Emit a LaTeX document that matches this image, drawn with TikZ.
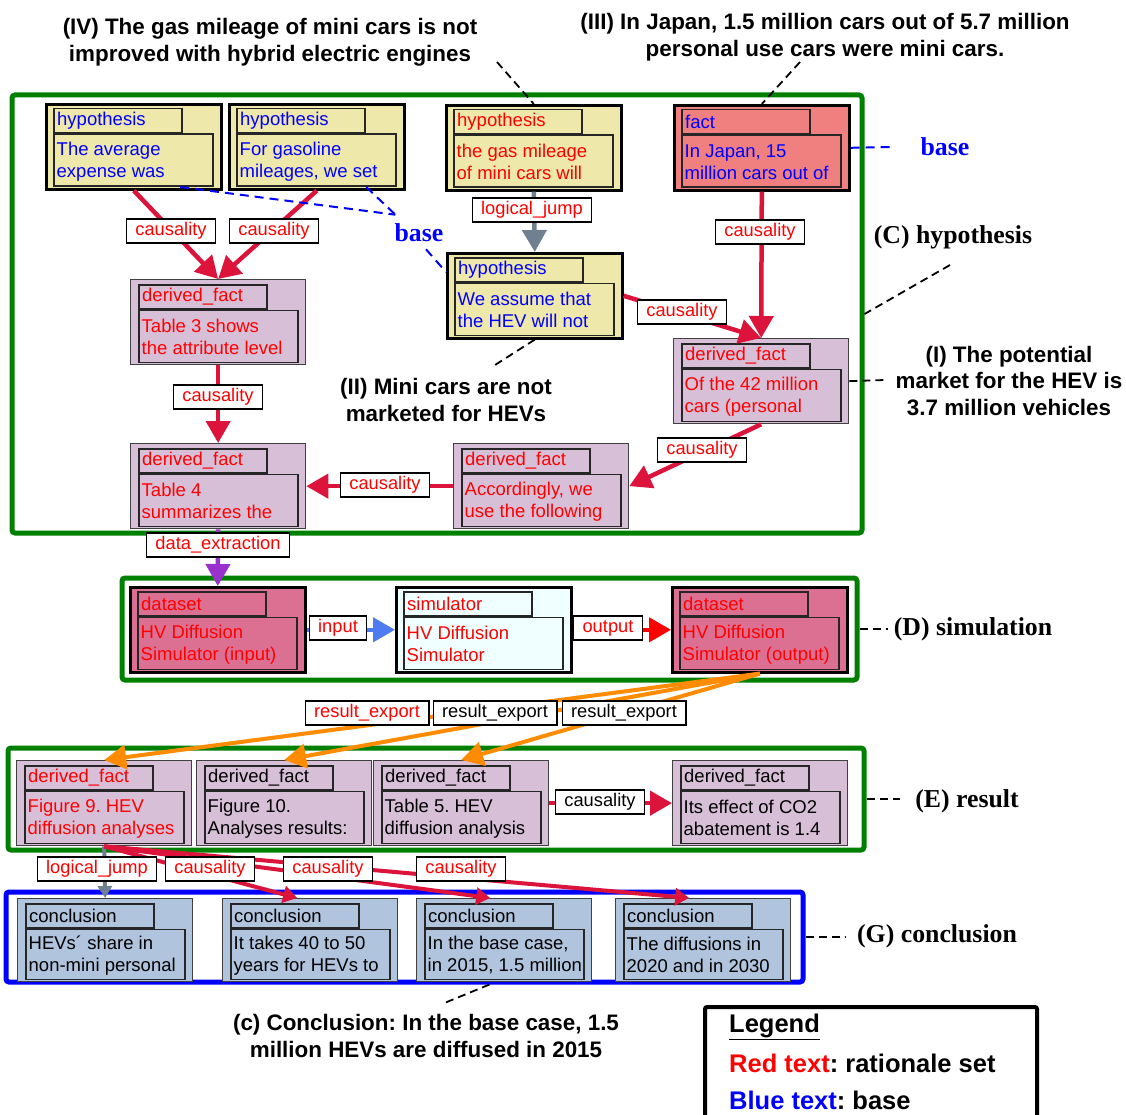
\documentclass[tikz,border=0pt]{standalone}
\usepackage{fontspec}
\setmainfont{Liberation Sans}
\newfontfamily\serifbold{Liberation Serif}
\usetikzlibrary{arrows.meta}
\frenchspacing

\definecolor{hypfill}{HTML}{EEE8AA}
\definecolor{factfill}{HTML}{F08080}
\definecolor{dffill}{HTML}{D8BFD8}
\definecolor{dsfill}{HTML}{DB7093}
\definecolor{simfill}{HTML}{F0FFFF}
\definecolor{confill}{HTML}{B0C4DE}
\definecolor{grn}{HTML}{008000}
\definecolor{crim}{HTML}{DC143C}
\definecolor{slate}{HTML}{708090}
\definecolor{orchid}{HTML}{9932CC}
\definecolor{inblue}{HTML}{4F7BF0}
\definecolor{dorange}{HTML}{FF8C00}

\tikzset{
  outerbox/.style={draw=black, minimum width=175pt, minimum height=85pt, anchor=north west, inner sep=0pt},
  hyp/.style={outerbox, fill=hypfill, line width=2.6pt},
  factk/.style={outerbox, fill=factfill, line width=2.6pt},
  dfact/.style={outerbox, fill=dffill, line width=1.3pt, draw=black!75},
  dset/.style={outerbox, fill=dsfill, line width=2.6pt},
  simk/.style={outerbox, fill=simfill, line width=2.6pt},
  concl/.style={outerbox, fill=confill, line width=1.3pt, draw=black!75, minimum height=83pt},
  tabbox/.style={draw=black!85, line width=1.5pt, minimum width=128pt, minimum height=24pt, anchor=north west, inner sep=0pt},
  contbox/.style={draw=black!85, line width=1.5pt, minimum width=159pt, anchor=north west, inner sep=0pt},
  ntext/.style={font=\fontsize{18.5}{22}\selectfont, anchor=west, align=left, inner sep=0pt},
  grp/.style={draw=grn, line width=5pt, rounded corners=3pt, inner sep=0pt},
  causal/.style={draw=crim, line width=4.5pt, -{Triangle[length=22pt,width=24pt]}},
  causalsm/.style={draw=crim, line width=4pt, -{Triangle[length=14pt,width=17pt]}},
  ljump/.style={draw=slate, line width=4.5pt, -{Triangle[length=22pt,width=24pt]}},
  ljumpsm/.style={draw=slate, line width=4pt, -{Triangle[length=12pt,width=14pt]}},
  dext/.style={draw=orchid, line width=4.5pt, -{Triangle[length=22pt,width=24pt]}},
  inp/.style={draw=inblue, line width=4.5pt, -{Triangle[length=22pt,width=24pt]}},
  outp/.style={draw=red, line width=4.5pt, -{Triangle[length=22pt,width=24pt]}},
  rexp/.style={draw=dorange, line width=4pt, -{Triangle[length=22pt,width=24pt]}},
  elab/.style={draw=black, line width=1.2pt, fill=white, inner xsep=9pt, inner ysep=0pt, minimum height=24pt, font=\fontsize{18.3}{22}\selectfont, text=red},
  basedash/.style={draw=blue, line width=2pt, dash pattern=on 9pt off 6pt},
  anndash/.style={draw=black, line width=1.8pt, dash pattern=on 8pt off 5pt},
  ann/.style={font=\bfseries\fontsize{22.4}{26.8}\selectfont, align=center, inner sep=0pt},
  serlab/.style={font=\serifbold\bfseries\fontsize{25.8}{28}\selectfont, inner sep=2pt},
  legtext/.style={font=\bfseries\fontsize{25.5}{28}\selectfont, anchor=west, inner sep=0pt},
}

% #1 name, #2 x, #3 y, #4 kind, #5 text colour, #6 type, #7 content, #8 content height
\newcommand\objnode[8]{%
  \node[#4] (#1) at (#2,#3) {};
  \node[tabbox] (#1t) at ([shift={(8pt,-5pt)}]#1.north west) {};
  \node[ntext, text=#5] (#1tl) at ([xshift=4pt]#1t.west) {#6};
  \node[contbox, minimum height=#8] (#1c) at (#1t.south west) {};
  \node[ntext, text=#5] (#1cl) at ([shift={(3.5pt,-1pt)}]#1c.west) {#7};
}

\begin{document}
\begin{tikzpicture}[x=1pt,y=-1pt]
\useasboundingbox (0,0) rectangle (1126,1115);

% groups
\node[grp, minimum width=850pt, minimum height=438pt] (grpC) at (437,314) {};
\node[grp, minimum width=735pt, minimum height=102pt] (grpD) at (489.5,629) {};
\node[grp, minimum width=856pt, minimum height=102pt] (grpE) at (436,799) {};
\node[grp, draw=blue, minimum width=797pt, minimum height=90pt] (grpG) at (404.5,937) {};

% objects (C)
\objnode{h1}{45}{103}{hyp}{blue}{hypothesis}{The average\\expense was}{52pt}
\objnode{h2}{228}{103}{hyp}{blue}{hypothesis}{For gasoline\\mileages, we set}{52pt}
\objnode{h3}{445}{104}{hyp}{red}{hypothesis}{the gas mileage\\of mini cars will}{52pt}
\objnode{fact}{673}{104}{factk}{blue}{fact}{In Japan, 15\\million cars out of}{52pt}
\objnode{h4}{446}{252}{hyp}{blue}{hypothesis}{We assume that\\the HEV will not}{52pt}
\objnode{df1}{673}{338}{dfact}{red}{derived\_fact}{Of the 42 million\\cars (personal}{52pt}
\objnode{t3}{130}{279}{dfact}{red}{derived\_fact}{Table 3 shows\\the attribute level}{52pt}
\objnode{t4}{130}{443}{dfact}{red}{derived\_fact}{Table 4\\summarizes the}{52pt}
\objnode{acc}{453}{443}{dfact}{red}{derived\_fact}{Accordingly, we\\use the following}{52pt}
% (D)
\objnode{din}{129}{586}{dset}{red}{dataset}{HV Diffusion\\Simulator (input)}{52pt}
\objnode{sim}{395}{586}{simk}{red}{simulator}{HV Diffusion\\Simulator}{52pt}
\objnode{dout}{671}{586}{dset}{red}{dataset}{HV Diffusion\\Simulator (output)}{52pt}
% (E)
\objnode{f9}{16}{760}{dfact}{red}{derived\_fact}{Figure 9. HEV\\diffusion analyses}{52pt}
\objnode{f10}{196}{760}{dfact}{black}{derived\_fact}{Figure 10.\\Analyses results:}{52pt}
\objnode{t5}{373}{760}{dfact}{black}{derived\_fact}{Table 5. HEV\\diffusion analysis}{52pt}
\objnode{eff}{672}{760}{dfact}{black}{derived\_fact}{Its effect of CO2\\abatement is 1.4}{52pt}
% (G)
\objnode{c1}{17}{898}{concl}{black}{conclusion}{HEVs\char"00B4{} share in\\non-mini personal}{50pt}
\objnode{c2}{222}{898}{concl}{black}{conclusion}{It takes 40 to 50\\years for HEVs to}{50pt}
\objnode{c3}{416}{898}{concl}{black}{conclusion}{In the base case,\\in 2015, 1.5 million}{50pt}
\objnode{c4}{615}{898}{concl}{black}{conclusion}{The diffusions in\\2020 and in 2030}{50pt}

% connectors
\draw[causal] (h1.south) -- (t3.north);
\draw[causal] (h2.south) -- (t3.north);
\draw[ljump] (h3.south) -- (h4.north);
\draw[causal] (fact.south) -- (df1.north);
\draw[causal] (h4.east) -- (df1.north);
\draw[causal] (t3.south) -- (t4.north);
\draw[causal] (df1.south) -- (acc.east);
\draw[causal] (acc.west) -- (t4.east);
\draw[dext] (t4.south) -- (din.north);
\draw[inp] (din.east) -- (sim.west);
\draw[outp] (sim.east) -- (dout.west);
\draw[rexp] (dout.south) -- (f9.north);
\draw[rexp] (dout.south) -- (f10.north);
\draw[rexp] (dout.south) -- (t5.north);
\draw[causal] (t5.east) -- (eff.west);
\draw[ljumpsm] (f9.south) -- (c1.north);
\draw[causalsm] (f9.south) -- ([xshift=-13pt]c2.north);
\draw[causalsm] (f9.south) -- ([xshift=-14pt]c3.north);
\draw[causalsm] (f9.south) -- ([xshift=-14pt]c4.north);

% edge labels
\node[elab] (l1) at (171,231) {causality};
\node[elab] (l2) at (274,231) {causality};
\node[elab] (l3) at (532,210) {logical\_jump};
\node[elab] (l4) at (760,232) {causality};
\node[elab] (l5) at (682,312) {causality};
\node[elab] (l6) at (218,397) {causality};
\node[elab] (l7) at (702,450) {causality};
\node[elab] (l8) at (385,485) {causality};
\node[elab] (l9) at (218,545) {data\_extraction};
\node[elab] (l10) at (338,628) {input};
\node[elab] (l11) at (608,628) {output};
\node[elab] (l12) at (367,713) {result\_export};
\node[elab, text=black] (l13) at (495,713) {result\_export};
\node[elab, text=black] (l14) at (624,713) {result\_export};
\node[elab, text=black] (l15) at (600,802) {causality};
\node[elab] (l16) at (97,869) {logical\_jump};
\node[elab] (l17) at (210,869) {causality};
\node[elab] (l18) at (328,869) {causality};
\node[elab] (l19) at (461,869) {causality};

% base labels
\node[serlab, text=blue] (base1) at (419,233) {base};
\node[serlab, text=blue] (base2) at (945,147) {base};
\draw[basedash] ([xshift=47pt]h1c.south) -- ([shift={(3pt,7pt)}]base1.north west);
\draw[basedash] ([xshift=50pt]h2c.south) -- ([shift={(3pt,7pt)}]base1.north west);
\draw[basedash] ([shift={(7pt,-5pt)}]base1.south) -- ([yshift=-20pt]h4.north west);
\draw[basedash] (fact.east) -- ([xshift=-26pt]base2.west);

% annotations
\node[ann] (ivlab) at (270,42) {(IV) The gas mileage of mini cars is not\\improved with hybrid electric engines};
\node[ann] (iiilab) at (825,37) {(III) In Japan, 1.5 million cars out of 5.7 million\\personal use cars were mini cars.};
\node[ann] (ilab) at (1009,381) {(I) The potential\\market for the HEV is\\3.7 million vehicles};
\node[ann] (iilab) at (446,400) {(II) Mini cars are not\\marketed for HEVs};
\node[ann] (cclab) at (426,1036) {(c) Conclusion: In the base case, 1.5\\million HEVs are diffused in 2015};
\node[serlab] (clab) at (953,237) {(C) hypothesis};
\node[serlab] (dlab) at (973,629) {(D) simulation};
\node[serlab] (elabl) at (967,801) {(E) result};
\node[serlab] (glab) at (937,936) {(G) conclusion};

\coordinate (ivp) at (497,62);
\coordinate (iiip) at (800,62);
\coordinate (cp) at (950,265);
\coordinate (ip) at (885,380);
\coordinate (iip) at (495,365);
\coordinate (dp) at (888,629);
\coordinate (ep) at (900,799);
\coordinate (gp) at (845,937);
\coordinate (ccp) at (442,1004);
\draw[anndash] (ivp) -- (h3.north);
\draw[anndash] (iiip) -- (fact.north);
\draw[anndash] (cp) -- (grpC.east);
\draw[anndash] (df1.east) -- (ip);
\draw[anndash] (h4.south) -- (iip);
\draw[anndash] (grpD.east) -- (dp);
\draw[anndash] (grpE.east) -- (ep);
\draw[anndash] (grpG.east) -- (gp);
\draw[anndash] ([xshift=85pt]grpG.south) -- (ccp);

% legend
\draw[line width=4pt, rounded corners=2pt] (705,1007) rectangle (1037,1140);
\node[legtext] (leg1) at (729,1027) {\underline{Legend}};
\node[legtext] (leg2) at (729,1063) {\textcolor{red}{Red text}: rationale set};
\node[legtext] (leg3) at (729,1100) {\textcolor{blue}{Blue text}: base};
\end{tikzpicture}
\end{document}
